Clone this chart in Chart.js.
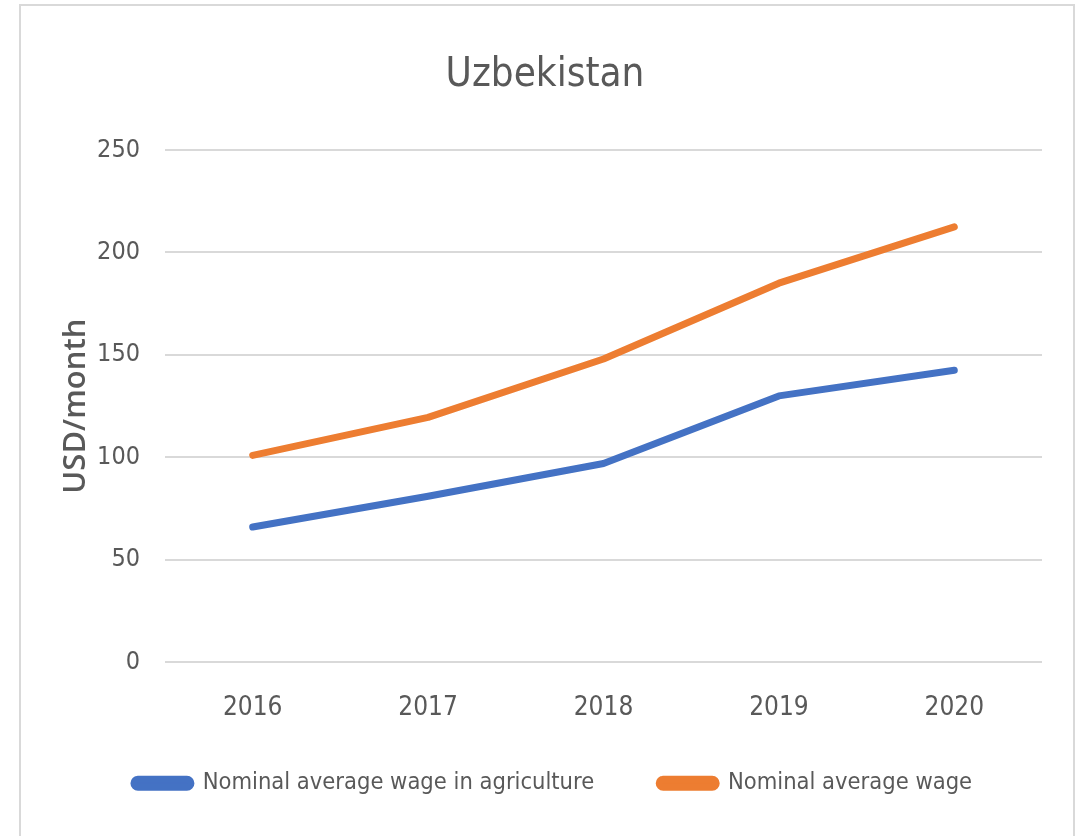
<!DOCTYPE html>
<html>
<head>
<meta charset="utf-8">
<script src="https://cdn.jsdelivr.net/npm/chart.js@4"></script>
<style>
  html, body { margin: 0; padding: 0; background: #fff; }
  .frame {
    position: absolute;
    left: 19px;
    top: 4px;
    width: 1052px;
    height: 840px;
    border: 2px solid #d9d9d9;
    background: #fff;
  }
  .frame canvas { display: block; }
</style>
</head>
<body>
<div class="frame">
  <canvas id="wageChart" width="1052" height="840"></canvas>
</div>
<script>
const YEARS = ['2016', '2017', '2018', '2019', '2020']
const AGRI_WAGE = [66, 81, 97, 130, 142.5]
const AVG_WAGE = [101, 119.5, 148, 185, 212.5]
const Y_TICKS = [0, 50, 100, 150, 200, 250]

const TEXT_COLOR = '#595959'
const NARROW = "'Liberation Sans Narrow', 'DejaVu Sans Condensed', sans-serif"
const LEGEND_GAP = 65
const X_AXIS_TRIM = LEGEND_GAP - 18
const LEGEND_SHIFT = 8

// legend padding doubles as item spacing, so the x axis is trimmed to keep
// the legend row in place; give the trimmed space back for label clipping
const layoutTweaks = {
  id: 'layoutTweaks',
  afterLayout(chart) {
    chart.scales.x.bottom += X_AXIS_TRIM
    chart.legend.left += LEGEND_SHIFT
    chart.legend.right += LEGEND_SHIFT
  },
}

function buildDataset(label, values, color) {
  return {
    label,
    data: values,
    borderColor: color,
    backgroundColor: color,
    borderWidth: 7,
    borderCapStyle: 'round',
    borderJoinStyle: 'round',
    pointRadius: 0,
    tension: 0,
  }
}

function initializeChart() {
  const canvas = document.getElementById('wageChart')
  if (!canvas || typeof Chart === 'undefined') {
    return null
  }

  return new Chart(canvas, {
    type: 'line',
    data: {
      labels: YEARS,
      datasets: [
        buildDataset('Nominal average wage in agriculture', AGRI_WAGE, '#4472c4'),
        buildDataset('Nominal average wage', AVG_WAGE, '#ed7d31'),
      ],
    },
    plugins: [layoutTweaks],
    options: {
      responsive: false,
      animation: false,
      layout: {
        padding: { left: 27, right: 31, top: 0, bottom: 41 },
      },
      scales: {
        x: {
          offset: true,
          afterFit: (scale) => {
            scale.height -= X_AXIS_TRIM
          },
          grid: { display: false, drawTicks: false },
          border: { display: false },
          ticks: {
            color: TEXT_COLOR,
            padding: 30,
            font: { family: NARROW, size: 26 },
          },
        },
        y: {
          min: 0,
          max: 250,
          afterBuildTicks: (scale) => {
            scale.ticks = Y_TICKS.map((value) => ({ value }))
          },
          afterFit: (scale) => {
            scale.width = 117
          },
          grid: { color: '#d9d9d9', lineWidth: 2, drawTicks: false },
          border: { display: false },
          ticks: {
            color: TEXT_COLOR,
            padding: 25,
            font: { family: NARROW, size: 25 },
          },
          title: {
            display: true,
            text: 'USD/month',
            color: TEXT_COLOR,
            padding: { top: 10, bottom: 0 },
            font: { family: "'Open Sans', sans-serif", size: 31, weight: '600' },
          },
        },
      },
      plugins: {
        title: {
          display: true,
          text: 'Uzbekistan',
          color: TEXT_COLOR,
          padding: { top: 46, bottom: 50 },
          font: { family: NARROW, size: 40, weight: 'normal' },
        },
        legend: {
          position: 'bottom',
          labels: {
            color: TEXT_COLOR,
            boxWidth: 57,
            boxHeight: 8,
            useBorderRadius: true,
            borderRadius: 4,
            padding: LEGEND_GAP,
            font: { family: NARROW, size: 23.5 },
          },
        },
        tooltip: { enabled: false },
      },
    },
  })
}

globalThis.addEventListener('DOMContentLoaded', () => {
  initializeChart()
})
</script>
</body>
</html>
